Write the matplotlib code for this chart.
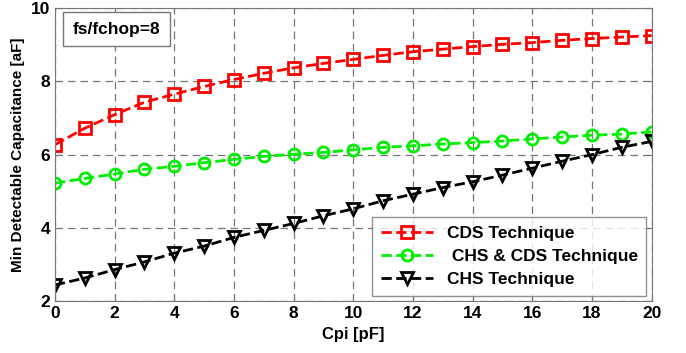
import numpy as np
import matplotlib.pyplot as plt

plt.rcParams['font.family'] = ['Liberation Sans', 'DejaVu Sans']

# Cpi [pF]
cpi = np.arange(0, 21)

# Min detectable capacitance [aF]
cds = [6.27, 6.72, 7.09, 7.43, 7.65, 7.86, 8.05, 8.22, 8.37, 8.49, 8.60,
       8.71, 8.81, 8.88, 8.95, 9.01, 9.06, 9.12, 9.17, 9.21, 9.25]
chs_cds = [5.22, 5.35, 5.47, 5.60, 5.68, 5.78, 5.87, 5.95, 6.01, 6.06, 6.13,
           6.20, 6.24, 6.29, 6.33, 6.37, 6.43, 6.48, 6.53, 6.56, 6.62]
chs = [2.44, 2.63, 2.86, 3.07, 3.31, 3.50, 3.74, 3.93, 4.12, 4.33, 4.52,
       4.74, 4.92, 5.10, 5.26, 5.44, 5.63, 5.82, 6.00, 6.20, 6.36]

fig = plt.figure(figsize=(6.86, 3.53), dpi=100)
ax = fig.add_axes([0.080, 0.147, 0.870, 0.830])

ax.plot(cpi, cds, '--s', color='#ff0000', lw=2, ms=8, mfc='none', mew=2,
        label='CDS Technique')
ax.plot(cpi, chs_cds, '--o', color='#00ee00', lw=2, ms=8, mfc='none', mew=2,
        label=' CHS & CDS Technique')
ax.plot(cpi, chs, '--v', color='black', lw=2, ms=9, mfc='none', mew=2,
        label='CHS Technique')

ax.set_xlim(0, 20)
ax.set_ylim(2, 10)
ax.set_xticks(range(0, 21, 2))
ax.set_yticks([2, 4, 6, 8, 10])
ax.grid(True, ls=(0, (6, 4)), color='#777777', lw=0.9)
for s in ax.spines.values():
    s.set_color('#777777')
ax.tick_params(direction='in', length=4, color='#777777', labelsize=12.5,
               top=True, right=True)
for lab in ax.get_xticklabels() + ax.get_yticklabels():
    lab.set_fontweight('bold')

ax.set_xlabel('Cpi [pF]', fontsize=12, fontweight='bold')
ax.set_ylabel('Min Detectable Capacitance [aF]', fontsize=11, fontweight='bold')

ax.text(0.030, 0.928, 'fs/fchop=8', transform=ax.transAxes, fontsize=12.5,
        fontweight='bold', va='center', ha='left',
        bbox=dict(boxstyle='square,pad=0.55', fc='white', ec='#777777'))

leg = ax.legend(loc='lower right', fontsize=12.5, frameon=True, fancybox=False,
                edgecolor='#777777', handlelength=3.0, borderaxespad=0.3,
                labelspacing=0.45, borderpad=0.5)
leg.get_frame().set_linewidth(1.0)
for t in leg.get_texts():
    t.set_fontweight('bold')

fig.savefig('out.png', dpi=100)
